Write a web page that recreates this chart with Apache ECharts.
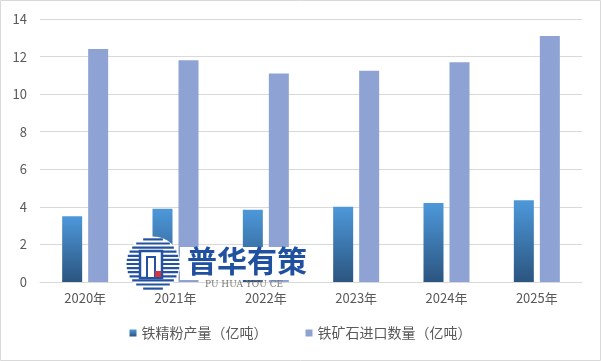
<!DOCTYPE html>
<html>
<head>
<meta charset="utf-8">
<script src="https://cdn.jsdelivr.net/npm/echarts@6/dist/echarts.min.js"></script>
<style>
html,body{margin:0;padding:0;background:#fff;}
#main{width:601px;height:361px;}
</style>
</head>
<body>
<div id="main"></div>
<script>
var categories = ['2020年','2021年','2022年','2023年','2024年','2025年'];
var seriesNames = ['铁精粉产量（亿吨）','铁矿石进口数量（亿吨）'];
var concentrate = [3.5, 3.9, 3.85, 4.0, 4.2, 4.35];
var imports = [12.4, 11.8, 11.1, 11.25, 11.7, 13.1];
var yTicks = {min: 0, max: 14, interval: 2};

var chart = echarts.init(document.getElementById('main'), null, {renderer: 'canvas'});
var font = '"Noto Sans CJK SC", "Noto Sans", sans-serif';
var gradient = new echarts.graphic.LinearGradient(0, 0, 0, 1, [
  {offset: 0, color: '#4D98DA'},
  {offset: 1, color: '#2B5580'}
]);

// watermark logo stripes
var logoCx = 153, logoCy = 264, logoR = 26.5;
var stripes = [];
for (var k = -6; k <= 6; k++) {
  var dy = k * 4.1;
  var half = Math.sqrt(Math.max(0, logoR * logoR - dy * dy));
  stripes.push({
    type: 'line', z: 101,
    shape: {x1: logoCx - half, y1: logoCy + dy, x2: logoCx + half, y2: logoCy + dy},
    style: {stroke: '#2452A0', lineWidth: 2.2}
  });
}

var option = {
  backgroundColor: '#ffffff',
  animation: false,
  textStyle: {fontFamily: font},
  grid: {left: 40, right: 19, top: 19, bottom: 79},
  legend: {
    bottom: 16,
    left: 'center',
    itemWidth: 7,
    itemHeight: 7,
    itemGap: 38,
    icon: 'rect',
    textStyle: {color: '#595959', fontSize: 14, fontFamily: font},
    data: seriesNames
  },
  xAxis: {
    type: 'category',
    data: categories,
    axisLine: {lineStyle: {color: '#D9D9D9'}},
    axisTick: {show: false},
    axisLabel: {color: '#595959', fontSize: 13, margin: 10, fontFamily: font}
  },
  yAxis: {
    type: 'value',
    min: yTicks.min, max: yTicks.max, interval: yTicks.interval,
    axisLine: {show: false},
    axisTick: {show: false},
    splitLine: {lineStyle: {color: '#D9D9D9'}},
    axisLabel: {color: '#595959', fontSize: 13, margin: 13, fontFamily: font}
  },
  series: [
    {
      name: seriesNames[0], type: 'bar', data: concentrate,
      barWidth: 20, barGap: '30%',
      itemStyle: {color: gradient}
    },
    {
      name: seriesNames[1], type: 'bar', data: imports,
      barWidth: 20,
      itemStyle: {color: '#8EA3D3'}
    }
  ],
  graphic: [
    {type: 'rect', z: 100, shape: {x: 0.5, y: 0.5, width: 600, height: 360}, style: {fill: null, stroke: '#D9D9D9', lineWidth: 1}},
    {type: 'rect', z: 100, shape: {x: 180, y: 247, width: 130, height: 33}, style: {fill: '#ffffff'}},
    {type: 'circle', z: 100, shape: {cx: logoCx, cy: logoCy, r: logoR + 1}, style: {fill: '#ffffff'}},
    {type: 'group', z: 101, children: stripes},
    {type: 'rect', z: 102, shape: {x: 140, y: 251, width: 22, height: 27}, style: {fill: '#ffffff', stroke: '#2452A0', lineWidth: 2.5}},
    {type: 'rect', z: 102, shape: {x: 147, y: 257, width: 8, height: 21}, style: {fill: '#ffffff', stroke: '#2452A0', lineWidth: 2}},
    {type: 'rect', z: 103, shape: {x: 155, y: 271, width: 6, height: 6}, style: {fill: '#D6333A'}},
    {type: 'text', z: 102, left: 187, top: 246, style: {text: '普华有策', fill: '#2050A0', font: 'bold 30px "Noto Sans CJK SC", sans-serif'}},
    {type: 'text', z: 102, left: 205, top: 280, style: {text: 'PU HUA YOU CE', fill: '#777777', font: '9px "DejaVu Serif", serif'}}
  ]
};
chart.setOption(option);
</script>
</body>
</html>
